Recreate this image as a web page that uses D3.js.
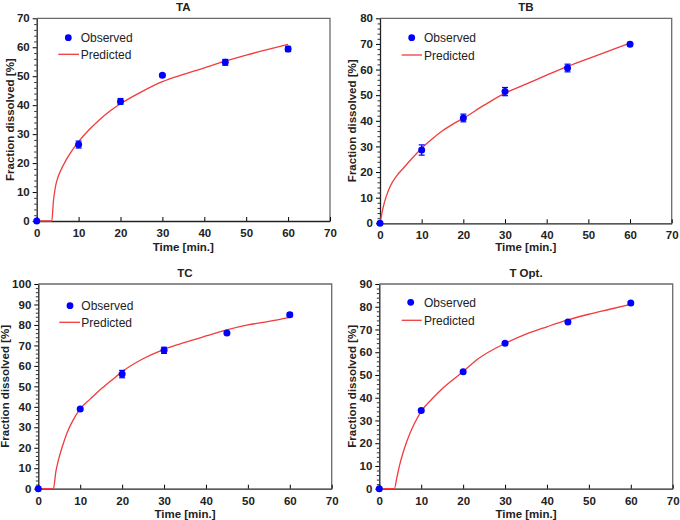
<!DOCTYPE html>
<html><head><meta charset="utf-8">
<script src="https://cdn.jsdelivr.net/npm/d3@7"></script>
<style>body{margin:0;background:#fff}svg{display:block}</style>
</head><body><svg id="c" width="680" height="520"></svg>
<script>
const xTicks = [0,10,20,30,40,50,60,70];
const obsTime = [0,10,20,30,45,60];

const taObs = [0,26.4,41.3,50.3,54.8,59.4];
const taErr = [0,1.2,1.0,0.5,1.0,0.9];
const taPredT = [0,3.6,4.0,4.5,5.0,5.6,7,8.5,10,12.5,15,17.5,20,25,30,35,40,45,50,55,60];
const taPredY = [0,0,7,12,14.8,17,21,24.5,27.4,31.5,35,38,40.5,44.6,48.1,50.6,52.9,55.2,57.3,59.2,61];

const tbObs = [0,28.6,41.1,51.4,60.6,69.9];
const tbErr = [0,2.0,1.5,1.6,1.5,0.7];
const tbPredT = [0,0.8,1.5,2.4,4,5.6,7.5,10,12.5,15,17.5,20,25,30,35,40,45,50,55,60];
const tbPredY = [0,6.5,10.5,14.3,18.5,21.5,25,29.3,32.9,36.1,38.7,41,46.1,50.8,54.3,57.8,61.2,64.3,67.3,70.3];

const tcObs = [0,38.9,56,67.6,76.1,85];
const tcErr = [0,0.5,1.8,1.5,0.6,0.9];
const tcPredT = [0,3.6,4.2,4.8,5.8,6.8,8.3,10,12.5,14.7,17.5,20,25,30,35,40,45,50,55,60];
const tcPredY = [0,0,8.5,14,21,27,33.5,39,44,48.2,53,57.2,63.5,68.1,71.5,74.6,77.6,80,81.7,83.7];

const tdObs = [0,34.4,51.4,64,73.3,81.7];
const tdErr = [0,0.5,0.6,0.5,0.5,0.6];
const tdPredT = [0,3.6,4.2,4.8,5.7,6.6,8.2,10,12.5,14.7,17.5,20,23.5,30,35,40,45,50,55,60];
const tdPredY = [0,0,5,10,16,21,28,34,39.3,43.4,47.8,51.5,57,63.9,68,71.2,74.2,76.7,78.9,81.1];

const panels = [
  {title:"TA", obs:taObs, err:taErr, pt:taPredT, py:taPredY, yMax:70, yTicks:[0,10,20,30,40,50,60,70],
   box:{l:36.7,r:330,t:18.3,b:221}, titleY:11, xTitleY:251, yTitleX:14,
   leg:{dotX:68.3,dotY:37.7,lx0:58.3,lx1:79,ly:54.3,tx:80.7}},
  {title:"TB", obs:tbObs, err:tbErr, pt:tbPredT, py:tbPredY, yMax:80, yTicks:[0,10,20,30,40,50,60,70,80],
   box:{l:380,r:671.7,t:18.3,b:223.3}, titleY:11, xTitleY:251, yTitleX:356,
   leg:{dotX:411.7,dotY:37.7,lx0:401.7,lx1:422,ly:55,tx:424}},
  {title:"TC", obs:tcObs, err:tcErr, pt:tcPredT, py:tcPredY, yMax:100, yTicks:[0,10,20,30,40,50,60,70,80,90,100],
   box:{l:38.3,r:331.7,t:284,b:488.7}, titleY:277, xTitleY:518, yTitleX:9,
   leg:{dotX:70,dotY:305.7,lx0:59.3,lx1:80,ly:322.3,tx:81.3}},
  {title:"T Opt.", obs:tdObs, err:tdErr, pt:tdPredT, py:tdPredY, yMax:90, yTicks:[0,10,20,30,40,50,60,70,80,90],
   box:{l:379.3,r:672.7,t:284,b:488.7}, titleY:277, xTitleY:518, yTitleX:356,
   leg:{dotX:410.7,dotY:302.3,lx0:401.7,lx1:421.7,ly:320.3,tx:424}}
];

const svg = d3.select("#c");
const FONT = "Liberation Sans, Arial, sans-serif";
const BLUE = "#0000ff", RED = "#f03c3c";

panels.forEach(p => {
  const b = p.box;
  const x = d3.scaleLinear().domain([0,70]).range([b.l,b.r]);
  const y = d3.scaleLinear().domain([0,p.yMax]).range([b.b,b.t]);
  const g = svg.append("g");

  g.append("path").attr("d",`M${b.l},${b.t}H${b.r}V${b.b}`).attr("fill","none")
    .attr("stroke","#6a6a6a").attr("stroke-width",1.3);

  const minor = d3.range(0,p.yMax+0.001,2).filter(v=>v%10!==0);
  g.append("g").attr("transform",`translate(${b.l},0)`)
    .call(d3.axisLeft(y).tickValues(minor).tickSize(2.5).tickFormat(""))
    .call(s=>{s.select(".domain").remove(); s.selectAll("line").attr("stroke","#333");});
  const ya = g.append("g").attr("transform",`translate(${b.l},0)`)
    .call(d3.axisLeft(y).tickValues(p.yTicks).tickSize(4).tickSizeOuter(0).tickPadding(3));
  ya.select(".domain").attr("stroke","#222").attr("stroke-width",1.3);
  ya.selectAll("text").attr("font-family",FONT).attr("font-weight","bold").attr("font-size",11.5).attr("fill","#222");

  const xa = g.append("g").attr("transform",`translate(0,${b.b})`)
    .call(d3.axisBottom(x).tickValues(xTicks).tickSizeInner(-4).tickSizeOuter(0).tickPadding(8));
  xa.select(".domain").attr("stroke","#222").attr("stroke-width",1.3);
  xa.selectAll("text").attr("font-family",FONT).attr("font-weight","bold").attr("font-size",11.5).attr("fill","#222");

  g.append("text").attr("x",(b.l+b.r)/2).attr("y",p.titleY).attr("text-anchor","middle")
    .attr("font-family",FONT).attr("font-weight","bold").attr("font-size",11.5).attr("fill","#222").text(p.title);
  g.append("text").attr("x",(b.l+b.r)/2).attr("y",p.xTitleY).attr("text-anchor","middle")
    .attr("font-family",FONT).attr("font-weight","bold").attr("font-size",11.5).attr("fill","#222").text("Time [min.]");
  g.append("text").attr("transform",`translate(${p.yTitleX},${(b.t+b.b)/2}) rotate(-90)`).attr("text-anchor","middle")
    .attr("font-family",FONT).attr("font-weight","bold").attr("font-size",11.5).attr("fill","#222").text("Fraction dissolved [%]");

  const line = d3.line().x(d=>x(d[0])).y(d=>y(d[1])).curve(d3.curveMonotoneX);
  g.append("path").datum(p.pt.map((t,i)=>[t,p.py[i]])).attr("d",line)
    .attr("fill","none").attr("stroke",RED).attr("stroke-width",1.3);

  const eb = g.append("g").attr("stroke",BLUE).attr("stroke-width",1.2);
  obsTime.forEach((t,i)=>{
    const e = p.err[i]; if(!e) return;
    const cx = x(t);
    eb.append("line").attr("x1",cx).attr("x2",cx).attr("y1",y(p.obs[i]-e)).attr("y2",y(p.obs[i]+e));
    [p.obs[i]-e,p.obs[i]+e].forEach(v=>eb.append("line").attr("x1",cx-3).attr("x2",cx+3).attr("y1",y(v)).attr("y2",y(v)));
  });
  g.selectAll("circle.o").data(obsTime).enter().append("circle")
    .attr("cx",d=>x(d)).attr("cy",(d,i)=>y(p.obs[i])).attr("r",3.5).attr("fill",BLUE);

  const L = p.leg;
  g.append("circle").attr("cx",L.dotX).attr("cy",L.dotY).attr("r",3.4).attr("fill",BLUE);
  g.append("line").attr("x1",L.lx0).attr("x2",L.lx1).attr("y1",L.ly).attr("y2",L.ly).attr("stroke",RED).attr("stroke-width",1.3);
  g.append("text").attr("x",L.tx).attr("y",L.dotY+4.5).attr("font-family",FONT).attr("font-size",12).attr("fill","#222").text("Observed");
  g.append("text").attr("x",L.tx).attr("y",L.ly+4.5).attr("font-family",FONT).attr("font-size",12).attr("fill","#222").text("Predicted");
});
</script>
</body></html>
